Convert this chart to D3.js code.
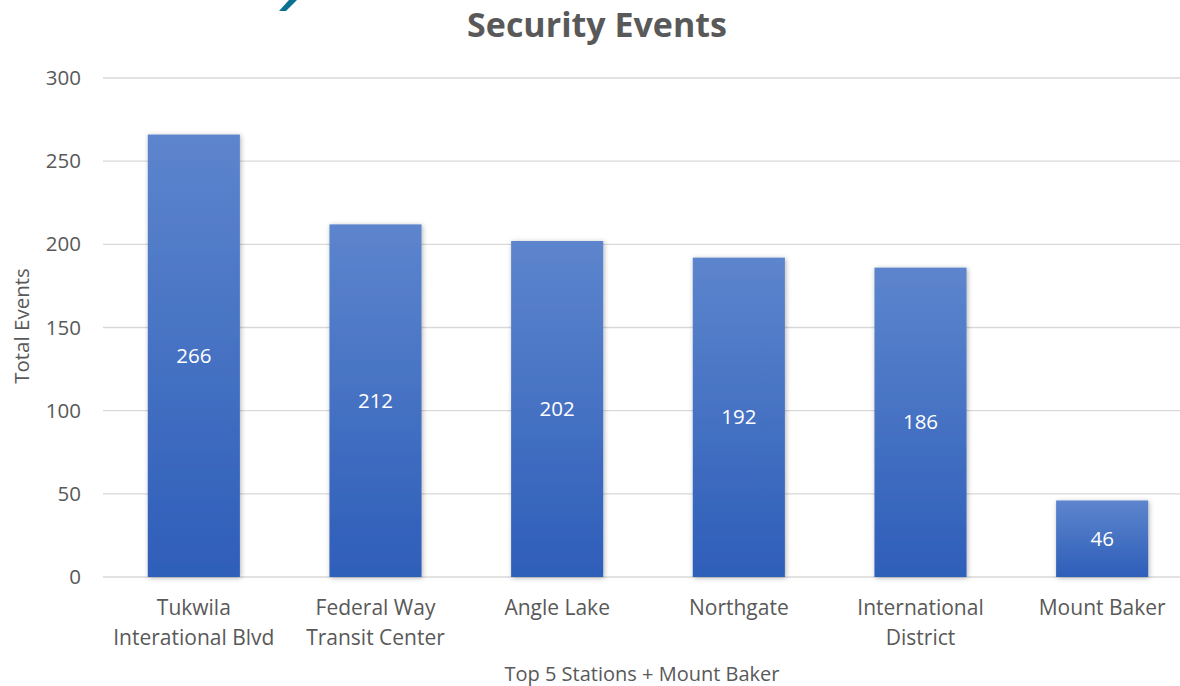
<!DOCTYPE html>
<html>
<head>
<meta charset="utf-8">
<script src="https://cdn.jsdelivr.net/npm/d3@7"></script>
<style>
  html, body { margin: 0; padding: 0; background: #fff; }
  svg { display: block; font-family: "Open Sans", sans-serif; }
</style>
</head>
<body>
<div id="chart"></div>
<script>
// Data
const stations = ["Tukwila Interational Blvd", "Federal Way Transit Center", "Angle Lake", "Northgate", "International District", "Mount Baker"];
const stationLines = [["Tukwila", "Interational Blvd"], ["Federal Way", "Transit Center"], ["Angle Lake"], ["Northgate"], ["International", "District"], ["Mount Baker"]];
const totalEvents = [266, 212, 202, 192, 186, 46];
const yTicks = [0, 50, 100, 150, 200, 250, 300];

const width = 1180;
const height = 686;
const margin = {top: 78, right: 0, bottom: 109, left: 103};

const svg = d3.select("#chart").append("svg")
    .attr("width", width)
    .attr("height", height)
    .attr("viewBox", [0, 0, width, height]);

const defs = svg.append("defs");

// bar gradient, lighter on top
const grad = defs.append("linearGradient")
    .attr("id", "barGrad")
    .attr("x1", 0).attr("y1", 0).attr("x2", 0).attr("y2", 1);
grad.append("stop").attr("offset", "0%").attr("stop-color", "#5d85cd");
grad.append("stop").attr("offset", "100%").attr("stop-color", "#2e5eb9");

// soft shadow around the bars
const shadow = defs.append("filter")
    .attr("id", "barShadow")
    .attr("x", "-20%").attr("y", "-20%").attr("width", "140%").attr("height", "140%");
shadow.append("feDropShadow")
    .attr("dx", 1).attr("dy", 1)
    .attr("stdDeviation", 2.5)
    .attr("flood-color", "#000")
    .attr("flood-opacity", 0.3);

// little piece of a logo cut off at the top
svg.append("path")
    .attr("d", "M289,0 L297,0 L286,11 L279,11 Z")
    .attr("fill", "#0b7291");

// scales
const x = d3.scaleBand()
    .domain(stations)
    .range([margin.left, 1193])
    .paddingInner(0.493)
    .paddingOuter(0.2465);

const y = d3.scaleLinear()
    .domain([0, 300])
    .range([height - margin.bottom, margin.top]);

// gridlines
svg.append("g")
    .selectAll("line")
    .data(yTicks)
    .join("line")
    .attr("x1", margin.left)
    .attr("x2", width - margin.right)
    .attr("y1", d => y(d))
    .attr("y2", d => y(d))
    .attr("stroke", "#d9d9d9")
    .attr("stroke-width", 1.3);

// y axis labels
const yAxis = svg.append("g")
    .attr("transform", `translate(${margin.left - 22},0)`)
    .call(d3.axisLeft(y).tickValues(yTicks).tickSize(0).tickPadding(0));
yAxis.select(".domain").remove();
yAxis.selectAll("text")
    .attr("fill", "#595959")
    .attr("font-size", 20.5)
    .attr("font-family", "Open Sans, sans-serif");

// bars
svg.append("g")
    .selectAll("rect")
    .data(totalEvents)
    .join("rect")
    .attr("x", (d, i) => x(stations[i]))
    .attr("y", d => y(d))
    .attr("width", x.bandwidth())
    .attr("height", d => y(0) - y(d))
    .attr("fill", "url(#barGrad)")
    .attr("filter", "url(#barShadow)");

// value labels in the middle of each bar
svg.append("g")
    .selectAll("text")
    .data(totalEvents)
    .join("text")
    .attr("x", (d, i) => x(stations[i]) + x.bandwidth() / 2)
    .attr("y", d => (y(d) + y(0)) / 2)
    .attr("dy", "0.35em")
    .attr("text-anchor", "middle")
    .attr("fill", "#fff")
    .attr("font-size", 20.5)
    .text(d => d);

// category labels
const cats = svg.append("g")
    .selectAll("text")
    .data(stations)
    .join("text")
    .attr("text-anchor", "middle")
    .attr("fill", "#595959")
    .attr("font-size", 21)
    .attr("transform", d => `translate(${x(d) + x.bandwidth() / 2},${y(0) + 38})`);
cats.selectAll("tspan")
    .data((d, i) => stationLines[i])
    .join("tspan")
    .attr("x", 0)
    .attr("y", (d, j) => j * 30)
    .text(d => d);

// title
svg.append("text")
    .attr("x", 597)
    .attr("y", 37)
    .attr("text-anchor", "middle")
    .attr("fill", "#595959")
    .attr("font-size", 34)
    .attr("font-weight", "bold")
    .text("Security Events");

// axis titles
svg.append("text")
    .attr("x", 642)
    .attr("y", 681)
    .attr("text-anchor", "middle")
    .attr("fill", "#595959")
    .attr("font-size", 20)
    .text("Top 5 Stations + Mount Baker");

svg.append("text")
    .attr("transform", "translate(29,326) rotate(-90)")
    .attr("text-anchor", "middle")
    .attr("fill", "#595959")
    .attr("font-size", 20.5)
    .text("Total Events");
</script>
</body>
</html>
